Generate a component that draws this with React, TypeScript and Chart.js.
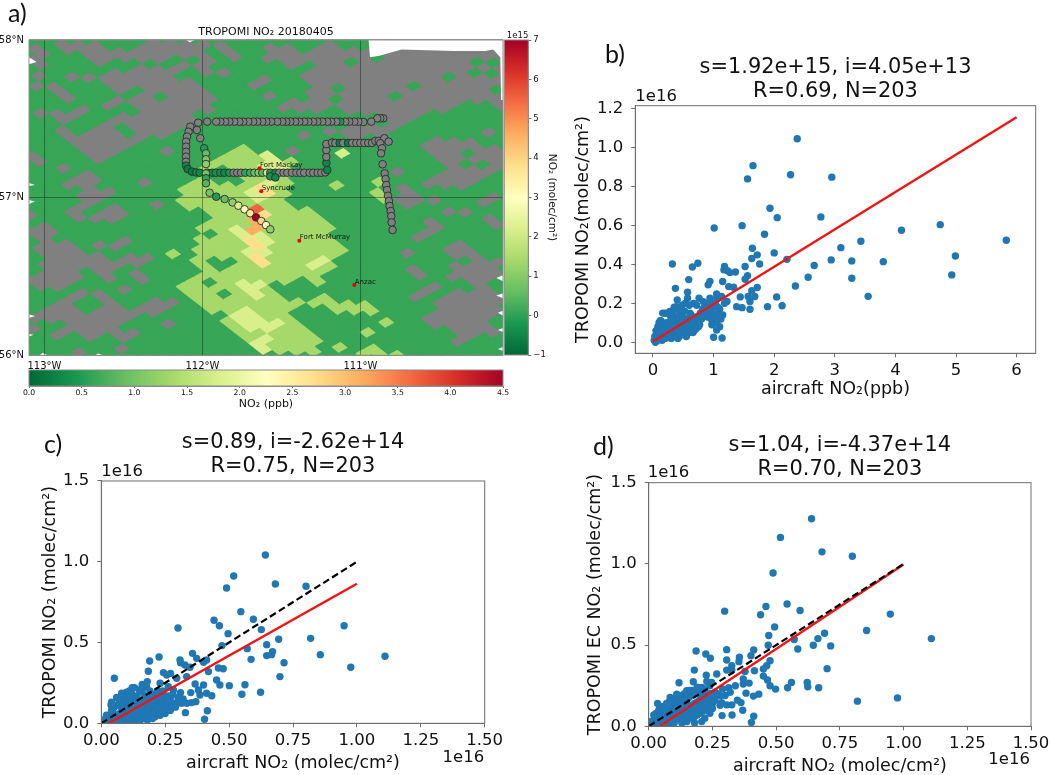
import React, { useEffect, useRef } from "react";
import { Chart, registerables } from "chart.js";
Chart.register(...registerables);

const FONT = "'DejaVu Sans'";
const INK = "#111";
const SPINE = "#6e6e6e";
const BLUE = "#1f77b4";

// RdYlGn reversed, low to high
const CMAP = ["#006837","#1a9850","#66bd63","#a6d96a","#d9ef8b","#ffffbf","#fee08b","#fdae61","#f46d43","#d73027","#a50026"];

// ---------- Panel a: map ----------
const MAP_TITLE = "TROPOMI NO₂ 20180405";
const LON_TICKS = [-113, -112, -111];
const LAT_TICKS = [56, 57, 58];
const NO2_TICKS = [-1, 0, 1, 2, 3, 4, 5, 6, 7];
const PPB_TICKS = [0, 0.5, 1, 1.5, 2, 2.5, 3, 3.5, 4, 4.5];

const CITY_NAMES = ["Fort Mackay", "Syncrude", "Fort McMurray", "Anzac"];
const CITY_LON = [-111.639, -111.628, -111.387, -111.039];
const CITY_LAT = [57.186, 57.04, 56.727, 56.446];

const TRACK_LON = [
  -110.856,-110.875,-110.894,-110.932,-110.982,-111.014,-111.039,-111.071,-111.096,-111.128,-111.153,-111.185,-111.21,-111.242,-111.273,-111.299,-111.33,-111.356,-111.387,-111.413,-111.444,-111.47,-111.495,-111.527,-111.565,-111.596,-111.622,-111.653,-111.679,-111.71,-111.742,-111.767,-111.799,-111.83,-111.856,-111.887,-111.913,-111.97,
  -112.027,-112.077,-112.088,-112.098,-112.104,-112.104,-112.104,-112.104,-112.104,-112.104,-112.094,
  -112.067,-112.039,-112.018,-111.968,-111.938,-111.915,-111.887,-111.862,-111.83,-111.803,-111.78,-111.756,-111.729,-111.698,-111.672,-111.645,-111.622,-111.592,-111.571,-111.539,-111.514,-111.487,-111.463,-111.434,-111.406,-111.381,-111.356,-111.322,-111.299,-111.271,-111.248,-111.223,
  -111.21,-111.216,-111.216,-111.216,-111.216,-111.178,
  -111.18,-111.159,-111.132,-111.109,-111.079,-111.052,-111.026,-111.001,-110.976,-110.951,-110.927,-110.906,-110.885,-110.849,-110.822,
  -110.875,-110.864,-110.87,-110.86,-110.847,-110.841,-110.837,-110.832,-110.826,-110.82,-110.816,-110.809,-110.805,-110.803,-110.797,
  -112.035,-112.014,-111.989,-111.978,-111.978,-111.978,-111.978,-111.978,-111.978,-111.955,-111.913,-111.86,-111.81,-111.773,-111.734,-111.698,-111.661,-111.628,-111.598,-111.571,
  -111.571,-111.539,
];
const TRACK_LAT = [
  57.503,57.503,57.503,57.482,57.48,57.482,57.482,57.482,57.482,57.482,57.482,57.482,57.482,57.482,57.482,57.482,57.482,57.482,57.482,57.482,57.482,57.482,57.482,57.482,57.482,57.482,57.482,57.482,57.482,57.482,57.482,57.482,57.482,57.482,57.482,57.482,57.482,57.482,
  57.475,57.45,57.418,57.387,57.355,57.323,57.291,57.26,57.228,57.203,57.182,
  57.165,57.16,57.158,57.158,57.158,57.158,57.158,57.158,57.158,57.158,57.158,57.158,57.158,57.158,57.158,57.158,57.158,57.158,57.158,57.158,57.158,57.158,57.158,57.158,57.158,57.158,57.158,57.158,57.158,57.158,57.158,57.16,
  57.175,57.22,57.258,57.302,57.34,57.349,
  57.349,57.347,57.347,57.347,57.347,57.347,57.347,57.347,57.347,57.347,57.347,57.36,57.36,57.377,57.355,
  57.345,57.313,57.281,57.212,57.154,57.118,57.08,57.048,57.012,56.979,56.947,56.915,56.883,56.843,56.795,
  57.429,57.377,57.313,57.281,57.243,57.213,57.154,57.123,57.091,57.031,57.006,56.991,56.97,56.949,56.926,56.901,56.875,56.852,56.826,56.799,
  57.135,57.128,
];
// null = no aircraft value (grey marker)
const TRACK_PPB: (number | null)[] = [
  null,null,null,null,null,null,null,null,null,0.45,null,null,null,null,null,null,null,null,null,null,null,null,null,null,null,null,null,null,null,null,null,null,null,null,null,null,null,null,
  null,null,null,null,null,null,null,null,null,0.3,0.2,
  0.2,0.35,0.3,0.25,0.3,0.4,0.35,0.3,0.45,null,null,null,0.6,0.7,0.9,1.1,0.8,1.8,0.5,0.3,null,null,null,null,null,null,null,null,null,null,null,null,
  0.3,0.3,null,null,null,null,
  null,null,0.2,null,0.2,null,null,null,null,null,null,null,null,null,null,
  null,null,null,null,null,null,null,null,null,null,null,null,null,null,null,
  null,null,0.5,0.9,1.1,1.2,1.0,0.6,0.8,1.0,0.5,0.9,1.2,1.8,2.2,2.6,4.5,2.8,2.3,1.2,
  0.4,0.3,
];

// Outlines of the cloud-masked (grey) areas, as flat lon,lat lists
const GREY_REGIONS: number[][] = [
  [-113.10,57.97,-113.04,57.98,-112.96,57.87,-113.03,57.83,-113.10,57.88],
  [-112.95,57.99,-112.72,57.99,-112.59,57.92,-112.67,57.88,-112.77,57.90,-112.88,57.92],
  [-112.37,57.99,-111.99,57.99,-111.92,57.90,-112.06,57.88,-112.20,57.89,-112.35,57.85,-112.44,57.89,-112.56,57.87,-112.71,57.84,-112.65,57.88,-112.58,57.90],
  [-111.95,57.97,-111.80,57.98,-111.68,57.88,-111.76,57.85,-111.87,57.90],
  [-111.64,57.94,-111.42,57.99,-111.38,57.89,-111.55,57.85],
  [-112.06,57.89,-111.97,57.90,-111.91,57.82,-111.98,57.78],
  [-111.90,57.82,-111.82,57.84,-111.79,57.80,-111.86,57.77],
  [-111.74,57.74,-111.62,57.78,-111.57,57.75,-111.68,57.70],
  [-111.67,57.65,-111.61,57.68,-111.56,57.64,-111.61,57.62],
  [-111.52,57.58,-111.45,57.61,-111.40,57.58,-111.47,57.55],
  [-111.94,57.32,-111.90,57.35,-111.85,57.31,-111.90,57.29],
  [-112.23,57.30,-112.16,57.32,-112.12,57.28,-112.18,57.26],
  [-112.88,57.79,-112.82,57.82,-112.76,57.78,-112.83,57.75],
  [-112.75,57.77,-112.71,57.79,-112.68,57.75,-112.72,57.74],
  [-113.07,57.78,-113.01,57.80,-112.96,57.77,-113.03,57.75],
  [-113.10,57.73,-113.04,57.74,-113.00,57.70,-113.07,57.67,-113.10,57.68],
  [-112.985,57.69,-112.91,57.72,-112.84,57.63,-112.91,57.60],
  [-113.07,57.56,-113.01,57.58,-112.95,57.52,-113.02,57.50],
  [-112.94,57.52,-112.79,57.58,-112.70,57.53,-112.87,57.49],
  [-112.64,57.76,-112.52,57.81,-112.11,57.85,-112.10,57.80,-112.25,57.76,-112.10,57.75,-111.93,57.62,-111.87,57.55,-111.99,57.53,-112.11,57.51,-112.23,57.56,-112.29,57.52,-112.39,57.56,-112.53,57.55,-112.65,57.58,-112.55,57.64,-112.56,57.70],
  [-112.94,57.42,-112.86,57.44,-112.77,57.39,-112.67,57.45,-112.60,57.47,-112.54,57.52,-112.41,57.53,-112.29,57.51,-112.23,57.55,-112.13,57.57,-112.03,57.52,-112.11,57.42,-112.18,57.39,-112.35,57.37,-112.44,57.32,-112.53,57.27,-112.65,57.22,-112.69,57.26,-112.77,57.31,-112.87,57.34],
  [-113.10,57.33,-113.04,57.31,-113.00,57.20,-113.10,57.20],
  [-112.93,57.18,-112.87,57.20,-112.83,57.17,-112.89,57.14],
  [-112.85,57.11,-112.72,57.19,-112.63,57.10,-112.72,57.05,-112.79,57.09,-112.90,57.03],
  [-112.45,57.10,-112.39,57.13,-112.34,57.09,-112.39,57.07],
  [-112.86,57.03,-112.58,57.07,-112.50,57.03,-112.75,56.93],
  [-112.37,56.98,-112.28,57.0,-112.23,56.95,-112.30,56.92],
  [-113.10,56.95,-113.03,56.92,-113.01,56.89,-113.10,56.88],
  [-112.83,56.95,-112.73,56.89,-112.65,56.90,-112.52,56.96,-112.46,56.91,-112.58,56.83,-112.65,56.86,-112.79,56.82,-112.86,56.92],
  [-113.10,56.81,-112.96,56.87,-112.89,56.76,-113.01,56.72,-113.10,56.75],
  [-113.05,56.72,-112.85,56.73,-112.76,56.65,-112.68,56.67,-112.60,56.59,-112.35,56.66,-112.32,56.60,-112.58,56.54,-112.56,56.51,-112.77,56.54,-113.0,56.51,-113.0,56.56,-113.05,56.57,-113.01,56.62],
  [-112.71,56.71,-112.66,56.74,-112.60,56.70,-112.67,56.68],
  [-112.59,56.70,-112.35,56.78,-112.32,56.75,-112.55,56.66],
  [-113.10,56.55,-113.0,56.51,-112.77,56.53,-112.72,56.50,-112.94,56.38,-112.97,56.44,-113.10,56.41],
  [-113.10,56.26,-113.01,56.32,-112.73,56.42,-112.55,56.36,-112.48,56.30,-112.25,56.36,-112.17,56.33,-112.37,56.24,-112.54,56.20,-112.41,56.14,-112.50,56.09,-112.58,56.15,-112.71,56.09,-112.83,56.15,-112.90,56.07,-112.97,56.15,-112.80,56.20,-112.99,56.21,-113.10,56.14],
  [-112.64,56.51,-112.58,56.53,-112.53,56.49,-112.59,56.46],
  [-112.44,56.51,-112.37,56.55,-112.32,56.51,-112.37,56.47],
  [-112.55,56.40,-112.49,56.44,-112.44,56.40,-112.50,56.37],
  [-112.28,56.21,-112.23,56.24,-112.17,56.20,-112.23,56.17],
  [-112.56,56.04,-112.50,56.09,-112.45,56.04,-112.50,56.01],
  [-112.85,56.0,-112.78,56.04,-112.72,56.0],
  [-112.19,56.0,-112.13,56.03,-112.09,56.0],
  [-111.31,57.96,-110.94,57.96,-110.88,57.96,-110.74,57.98,-110.41,57.98,-110.21,57.98,-110.16,57.98,-110.05,57.98,-110.05,57.55,-110.16,57.61,-110.29,57.61,-110.37,57.56,-110.63,57.52,-110.74,57.43,-111.0,57.36,-111.15,57.41,-111.28,57.42,-111.0,57.48,-110.79,57.47,-110.83,57.52,-111.04,57.53,-111.19,57.58,-111.38,57.52,-111.51,57.57,-111.42,57.62,-111.32,57.64,-111.33,57.73,-111.42,57.80,-111.32,57.80],
  [-111.51,57.95,-111.42,57.99,-111.32,57.89,-111.42,57.82,-111.51,57.84],
  [-111.21,57.98,-111.12,57.99,-111.01,57.89,-111.11,57.89],
  [-111.51,57.60,-111.47,57.61,-111.41,57.57,-111.47,57.55],
  [-111.42,57.38,-111.36,57.41,-111.31,57.37,-111.37,57.33],
  [-111.46,57.30,-111.40,57.33,-111.35,57.29,-111.40,57.27],
  [-110.20,57.42,-110.14,57.43,-110.10,57.40,-110.16,57.37],
  [-110.61,57.28,-110.58,57.34,-110.41,57.39,-110.33,57.37,-110.20,57.32,-110.10,57.39,-110.10,57.15,-110.22,57.11,-110.37,57.07,-110.50,57.05,-110.64,57.07,-110.60,57.13,-110.45,57.18,-110.52,57.24],
  [-110.79,57.16,-110.74,57.20,-110.68,57.16,-110.74,57.13],
  [-110.78,57.05,-110.74,57.08,-110.62,56.99,-110.71,56.93],
  [-110.56,57.0,-110.51,57.03,-110.46,56.99,-110.52,56.96],
  [-110.27,56.99,-110.16,57.01,-110.10,57.0,-110.10,56.97,-110.22,56.94],
  [-110.71,56.96,-110.62,56.985,-110.60,56.95,-110.66,56.92],
  [-110.47,56.91,-110.42,56.94,-110.38,56.90,-110.43,56.88],
  [-110.38,56.89,-110.33,56.92,-110.27,56.88,-110.33,56.85],
  [-110.26,56.87,-110.14,56.91,-110.10,56.86,-110.10,56.75,-110.16,56.77,-110.18,56.84,-110.22,56.83],
  [-110.29,56.80,-110.24,56.83,-110.19,56.79,-110.24,56.76],
  [-110.66,56.78,-110.56,56.85,-110.49,56.82,-110.59,56.76,-110.64,56.76],
  [-110.70,56.73,-110.64,56.76,-110.59,56.73,-110.64,56.70],
  [-110.73,56.66,-110.67,56.69,-110.62,56.66,-110.67,56.63],
  [-110.54,56.67,-110.42,56.71,-110.29,56.69,-110.22,56.59,-110.10,56.63,-110.10,56.53,-110.16,56.49,-110.24,56.44,-110.16,56.42,-110.10,56.33,-110.10,56.27,-110.22,56.24,-110.16,56.19,-110.11,56.14,-110.35,56.11,-110.41,56.19,-110.50,56.15,-110.63,56.23,-110.54,56.27,-110.44,56.32,-110.53,56.32,-110.43,56.37,-110.39,56.43,-110.29,56.41,-110.33,56.48,-110.41,56.48,-110.47,56.58,-110.39,56.62,-110.45,56.65],
  [-110.72,56.55,-110.65,56.58,-110.57,56.46,-110.49,56.42,-110.57,56.38,-110.67,56.36,-110.58,56.42,-110.66,56.50],
  [-110.41,56.08,-110.36,56.10,-110.32,56.07,-110.37,56.03],
];
// Clear openings inside the grey areas
const CLEAR_REGIONS: number[][] = [
  [-112.55,57.67,-112.41,57.71,-112.35,57.65,-112.50,57.61],
  [-112.30,57.62,-112.24,57.65,-112.20,57.61,-112.27,57.58],
  [-112.58,57.59,-112.53,57.61,-112.48,57.58,-112.53,57.55],
  [-112.44,57.87,-112.38,57.89,-112.34,57.85,-112.39,57.84],
  [-112.53,57.44,-112.45,57.46,-112.41,57.42,-112.49,57.39],
  [-112.81,56.33,-112.68,56.37,-112.58,56.31,-112.71,56.26,-112.80,56.27],
  [-111.12,57.85,-111.04,57.89,-111.02,57.86,-111.09,57.82],
  [-110.93,57.88,-110.88,57.89,-110.84,57.86,-110.91,57.84],
  [-111.30,57.76,-111.25,57.76,-111.16,57.70,-111.22,57.68],
  [-111.15,57.69,-111.03,57.74,-110.98,57.71,-111.11,57.66],
  [-111.18,57.63,-111.13,57.65,-111.08,57.62,-111.13,57.59],
  [-110.85,57.66,-110.80,57.69,-110.75,57.65,-110.80,57.63],
  [-110.72,57.70,-110.67,57.74,-110.62,57.70,-110.66,57.67],
  [-110.51,57.77,-110.45,57.80,-110.41,57.76,-110.46,57.73],
  [-110.34,57.90,-110.14,57.86,-110.16,57.84,-110.34,57.86],
  [-110.34,57.80,-110.29,57.82,-110.14,57.81,-110.14,57.77,-110.22,57.76],
  [-110.19,57.69,-110.14,57.71,-110.10,57.68,-110.14,57.65],
  [-110.85,57.55,-110.80,57.58,-110.75,57.55,-110.80,57.51],
  [-110.41,57.31,-110.33,57.32,-110.26,57.28,-110.35,57.25],
  [-110.39,57.23,-110.34,57.25,-110.29,57.21,-110.35,57.19],
  [-110.29,57.20,-110.24,57.23,-110.19,57.20,-110.25,57.16],
  [-110.40,56.59,-110.35,56.61,-110.29,56.58,-110.35,56.55],
  [-110.45,56.23,-110.40,56.26,-110.36,56.22,-110.41,56.19],
  [-110.36,56.42,-110.30,56.46,-110.25,56.42,-110.30,56.39],
];
// Outside the satellite swath: left blank
const NO_DATA_REGIONS: number[][] = [
  [-110.95,58.02,-110.94,57.89,-110.88,57.90,-110.74,57.94,-110.41,57.93,-110.21,57.93,-110.16,57.94,-110.115,57.89,-110.11,57.62,-110.05,57.62,-110.05,58.02],
  [-113.12,57.905,-113.05,57.86,-113.12,57.84],
  [-113.12,57.10,-113.06,57.08,-113.12,57.07],
  [-113.12,56.99,-113.06,56.975,-113.12,56.95],
  [-113.12,56.265,-113.06,56.25,-113.12,56.23],
  [-113.12,56.14,-113.07,56.13,-113.12,56.11],
  [-110.14,56.49,-110.08,56.515,-110.08,56.46],
  [-110.14,56.38,-110.08,56.40,-110.08,56.355],
  [-110.13,56.27,-110.08,56.29,-110.08,56.24],
  [-110.13,56.16,-110.08,56.18,-110.08,56.14],
  [-110.13,56.04,-110.08,56.06,-110.08,56.02],
  [-113.05,55.99,-113.01,56.015,-112.96,55.99],
  [-112.70,55.99,-112.66,56.012,-112.6,55.99],
  [-112.12,58.01,-112.08,57.985,-112.03,58.01],
];
// Plume, in 1e15 molec/cm2
const PLUME_LIGHT: number[][] = [
  [-112.16,57.03,-112.13,57.09,-112.01,57.15,-111.89,57.26,-111.76,57.33,-111.64,57.28,-111.58,57.33,-111.49,57.26,-111.38,57.26,-111.38,57.22,-111.45,57.13,-111.42,57.05,-111.44,56.98,-111.36,56.93,-111.30,56.92,-111.18,56.89,-111.23,56.85,-111.15,56.77,-111.16,56.70,-111.10,56.67,-111.16,56.62,-111.10,56.57,-111.19,56.53,-111.25,56.48,-111.22,56.39,-111.15,56.31,-110.95,56.37,-110.86,56.30,-110.93,56.26,-111.13,56.26,-111.23,56.32,-111.36,56.30,-111.42,56.27,-111.31,56.13,-111.23,56.05,-111.33,56.0,-111.63,56.0,-111.79,56.12,-111.88,56.19,-111.80,56.27,-112.05,56.30,-112.16,56.42,-112.0,56.49,-112.05,56.58,-112.05,56.66,-111.97,56.71,-112.05,56.76,-111.93,56.87,-112.10,56.96],
  [-112.24,56.64,-112.18,56.67,-112.13,56.64,-112.18,56.60],
  [-111.03,56.15,-110.98,56.19,-110.94,56.15,-110.98,56.12],
  [-110.93,56.13,-110.88,56.16,-110.83,56.13,-110.88,56.10],
  [-110.88,56.20,-110.83,56.23,-110.79,56.20,-110.84,56.17],
  [-111.15,56.05,-110.98,56.11,-110.95,56.09,-111.11,56.02],
  [-111.0,56.0,-110.93,56.10,-110.86,56.04,-110.83,56.0],
  [-110.82,56.0,-110.77,56.02,-110.72,56.0],
  [-111.19,57.10,-111.14,57.13,-111.09,57.09,-111.14,57.07],
  [-110.93,57.13,-110.88,57.15,-110.85,57.10,-110.90,57.08],
  [-110.93,57.01,-110.88,57.04,-110.83,57.0,-110.88,56.96],
];
const PLUME_GAPS: number[][] = [
  [-111.51,56.45,-111.38,56.48,-111.29,56.48,-111.23,56.39,-111.38,56.34,-111.41,56.35,-111.49,56.32],
  [-111.97,56.78,-111.91,56.82,-111.86,56.78,-111.93,56.75],
  [-112.0,56.61,-111.94,56.63,-111.89,56.59,-111.78,56.61,-111.73,56.57,-111.89,56.52],
  [-111.99,56.48,-111.95,56.51,-111.89,56.48,-111.95,56.45],
  [-111.93,56.39,-111.88,56.42,-111.81,56.38,-111.88,56.35],
  [-111.57,56.45,-111.52,56.48,-111.47,56.45,-111.52,56.41],
  [-111.50,56.35,-111.38,56.43,-111.38,56.35,-111.43,56.32],
  [-111.41,56.27,-111.38,56.29,-111.38,56.19,-111.42,56.22],
  [-111.97,57.22,-111.80,57.18,-111.68,57.11,-111.82,57.07,-111.93,57.09],
];
const PLUME_PALE: number[][] = [
  [-111.16,57.28,-111.11,57.31,-111.05,57.28,-111.11,57.24],
  [-111.63,57.24,-111.55,57.29,-111.47,57.20,-111.53,57.15,-111.61,57.18],
  [-111.76,57.05,-111.59,57.13,-111.53,57.05,-111.63,56.98,-111.72,57.0],
  [-111.81,56.84,-111.73,56.78,-111.61,56.81,-111.52,56.72,-111.59,56.68,-111.71,56.73,-111.81,56.76],
  [-111.77,56.68,-111.66,56.71,-111.52,56.59,-111.59,56.55,-111.71,56.61],
  [-111.76,56.45,-111.64,56.48,-111.59,56.38,-111.68,56.31],
  [-111.80,56.27,-111.68,56.35,-111.66,56.24,-111.47,56.23,-111.57,56.15,-111.68,56.14],
  [-111.71,56.10,-111.56,56.13,-111.57,56.0,-111.63,56.0],
  [-111.32,56.59,-111.26,56.63,-111.20,56.59,-111.27,56.55],
];
const PLUME_YELLOW: number[][] = [
  [-111.72,56.75,-111.66,56.77,-111.58,56.70,-111.64,56.67],
  [-111.72,56.62,-111.66,56.66,-111.58,56.58,-111.64,56.55],
  [-111.66,57.06,-111.59,57.07,-111.56,57.0,-111.61,56.99],
  [-111.61,56.90,-111.56,56.89,-111.60,56.85,-111.65,56.88],
];
const PLUME_ORANGE: number[][] = [[-111.74,56.87,-111.67,56.90,-111.59,56.83,-111.68,56.78]];
const PLUME_RED: number[][] = [[-111.71,56.93,-111.63,56.96,-111.59,56.91,-111.67,56.88]];

// ---------- Panel b ----------
const B_TITLE = ["s=1.92e+15, i=4.05e+13", "R=0.69, N=203"];
const B_X_TICKS = [0, 1, 2, 3, 4, 5, 6];
const B_Y_TICKS = [0, 0.2, 0.4, 0.6, 0.8, 1.0, 1.2];
const B_FIT_X = [0, 6];
const B_FIT_Y = [0.004, 1.156];
const B_POINTS = [
  2.38,1.045,1.65,.907,1.56,.839,2.27,.86,2.95,.848,1.93,.688,2.05,.64,2.77,.644,1.01,.587,1.47,.599,1.84,.555,4.10,.575,4.74,.604,5.83,.524,3.43,.519,3.10,.486,1.64,.483,2.00,.459,1.72,.449,4.99,.443,1.63,.43,2.21,.426,2.94,.423,3.28,.418,3.80,.414,1.76,.402,2.66,.394,1.52,.389,.32,.402,.74,.406,.65,.387,1.18,.389,1.17,.372,1.23,.368,1.27,.358,1.36,.361,4.93,.346,3.28,.329,2.56,.334,1.56,.342,1.52,.324,.59,.322,1.15,.312,.94,.313,.91,.295,2.35,.289,1.72,.281,1.25,.286,1.33,.283,.37,.277,1.63,.265,.57,.257,1.05,.248,3.55,.236,2.04,.233,1.68,.235,1.57,.235,1.44,.233,2.13,.188,1.89,.183,1.38,.183,1.47,.178,1.60,.17,1.6,.21,1.22,.21,
  .40,.218,.76,.226,.57,.226,.39,.183,.53,.2,.67,.2,.83,.209,.94,.226,1.05,.226,1.13,.235,.2,.149,.28,.158,.42,.132,.12,.111,.61,.149,.8,.14,.94,.149,1.08,.132,1,.106,1.1,.08,1,.026,1.14,.022,1.05,.063,
  .02,.01,.03,.03,.05,.02,.06,.04,.08,.01,.09,.03,.1,.05,.12,.02,.13,.04,.14,.07,.15,.01,.17,.03,.18,.05,.19,.09,.2,.02,.21,.06,.23,.08,.24,.03,.26,.04,.27,.1,.28,.06,.3,.02,.31,.08,.33,.05,.34,.1,.36,.03,.37,.07,.39,.12,.4,.05,.42,.09,.43,.03,.45,.06,.46,.11,.48,.04,.5,.08,.51,.05,.53,.1,.55,.03,.56,.07,.58,.12,.6,.05,.61,.09,.63,.14,.65,.07,.67,.11,.68,.06,.7,.09,.72,.13,.75,.08,.78,.15,.82,.17,.85,.18,.88,.16,.9,.13,.93,.18,.96,.12,.98,.15,1.02,.14,1.05,.1,1.08,.15,1.12,.12,.1,.1,.13,.11,.05,.06,.08,.08,.16,.15,.24,.15,.28,.14,.33,.16,.36,.13,
  .04,.0,.07,.06,.11,.08,.15,.05,.17,.09,.22,.1,.25,.07,.29,.11,.32,.03,.35,.07,.38,.09,.41,.02,.44,.12,.47,.08,.49,.13,.52,.07,.54,.12,.57,.1,.59,.07,.62,.11,.64,.09,.66,.05,.69,.12,.71,.07,.74,.11,.77,.09,.8,.12,.84,.14,.87,.2,.91,.16,.95,.2,.97,.09,1.0,.18,1.03,.2,1.07,.18,1.1,.17,1.15,.14,1.18,.2,.3,.13,.35,.18,.44,.16,.48,.19,.52,.16,.6,.19,.72,.19,
];

// ---------- Panels c, d ----------
const CD_TICKS_X = [0, 0.25, 0.5, 0.75, 1, 1.25, 1.5];
const CD_TICKS_Y = [0, 0.5, 1, 1.5];
const C_TITLE = ["s=0.89, i=-2.62e+14", "R=0.75, N=203"];
const D_TITLE = ["s=1.04, i=-4.37e+14", "R=0.70, N=203"];
const ONE_TO_ONE_X = [0, 1];
const ONE_TO_ONE_Y = [0, 1];
const C_FIT_Y = [-0.026, 0.864];
const D_FIT_Y = [-0.044, 0.996];
const C_POINTS = [
  .642,1.042,.518,.912,.49,.838,.681,.862,.801,.848,.546,.691,.441,.638,.595,.644,.462,.604,.496,.555,.3,.59,.626,.58,.95,.604,.819,.526,.694,.52,.647,.487,.472,.481,.357,.433,.571,.462,.857,.425,.67,.444,.647,.419,.666,.425,1.11,.415,.226,.41,.189,.386,.373,.402,.308,.392,.31,.375,.327,.361,.412,.392,.40,.378,.586,.396,.715,.375,.347,.347,.976,.347,.458,.342,.477,.338,.184,.322,.419,.32,.243,.314,.271,.309,.256,.299,.051,.279,.699,.289,.295,.279,.334,.289,.451,.268,.464,.237,.501,.233,.562,.239,.367,.243,.4,.237,.38,.206,.386,.175,.412,.186,.432,.171,.55,.18,.623,.192,.18,.258,.177,.227,.23,.248,.262,.227,.158,.217,.121,.221,.099,.192,.08,.186,.07,.155,.038,.113,.044,.082,.282,.206,.243,.165,.269,.124,.295,.128,.314,.124,.334,.124,.353,.128,.37,.134,.329,.066,.415,.078,.404,.025,
  .01,.005,.02,.02,.03,.01,.03,.04,.04,.02,.05,.005,.05,.05,.06,.03,.07,.01,.07,.06,.08,.02,.08,.09,.09,.04,.09,.12,.10,.01,.10,.07,.11,.03,.11,.1,.12,.05,.12,.14,.13,.02,.13,.08,.14,.04,.14,.12,.15,.06,.15,.01,.16,.09,.16,.03,.17,.06,.17,.13,.18,.02,.18,.1,.19,.05,.19,.15,.20,.08,.20,.12,.21,.04,.21,.1,.22,.07,.22,.14,.23,.11,.24,.09,.24,.16,.25,.06,.25,.13,.26,.1,.27,.15,.28,.12,.09,.15,.1,.17,.12,.18,.08,.13,.05,.1,.04,.08,.06,.11,.02,.05,.16,.2,.2,.18,.22,.2,.24,.2,.14,.17,.17,.17,.19,.2,.06,.01,.09,.02,.12,.01,.15,.03,
  .01,.02,.02,.0,.04,.04,.06,.0,.07,.03,.08,.05,.09,.08,.1,.04,.11,.06,.12,.09,.13,.05,.14,.08,.15,.1,.16,.06,.17,.09,.18,.07,.19,.11,.2,.03,.21,.07,.22,.1,.23,.05,.23,.15,.24,.12,.25,.09,.26,.13,.27,.08,.29,.1,.3,.16,.31,.19,.32,.15,.35,.19,.26,.17,.28,.18,.06,.16,.07,.13,.1,.13,.13,.15,.15,.14,.18,.15,.21,.16,.15,.2,.04,.13,.11,.2,.13,.22,.16,.24,
];
const D_POINTS = [
  .639,1.278,.517,1.163,.68,1.074,.799,1.047,.488,.944,.543,.753,.46,.738,.439,.687,.594,.713,.298,.709,.948,.691,.494,.612,.69,.573,.855,.59,.471,.559,.571,.534,.664,.54,.646,.499,.714,.495,.469,.499,1.109,.54,.585,.476,.306,.472,.412,.47,.401,.435,.186,.464,.224,.445,.242,.419,.356,.425,.354,.398,.306,.408,.326,.373,.476,.404,.463,.373,.45,.353,.70,.355,.306,.346,.326,.346,.267,.322,.226,.315,.179,.346,.415,.342,.378,.338,.45,.309,.466,.285,.371,.291,.371,.26,.394,.266,.476,.25,.498,.229,.56,.27,.545,.237,.622,.27,.624,.243,.667,.237,.314,.237,.382,.204,.411,.186,.432,.198,.819,.155,.976,.175,.119,.268,.175,.274,.208,.239,.228,.276,.247,.27,.149,.219,.11,.198,.084,.177,.035,.14,.28,.188,.286,.146,.306,.132,.326,.132,.348,.161,.362,.146,.369,.099,.288,.066,.327,.07,.412,.062,.403,.023,.208,.029,
  .005,.01,.01,.03,.02,.005,.02,.04,.03,.02,.04,.06,.04,.01,.05,.04,.05,.09,.06,.02,.06,.07,.07,.11,.07,.04,.08,.01,.08,.08,.09,.13,.09,.05,.10,.02,.10,.1,.11,.07,.11,.15,.12,.04,.12,.12,.13,.02,.13,.09,.14,.06,.14,.16,.15,.03,.15,.11,.16,.08,.16,.18,.17,.05,.17,.13,.18,.1,.18,.02,.19,.15,.19,.07,.20,.12,.20,.2,.21,.09,.21,.17,.22,.13,.22,.05,.23,.1,.23,.19,.24,.14,.24,.08,.25,.17,.25,.11,.26,.21,.06,.12,.08,.15,.05,.12,.1,.17,.12,.19,.03,.08,.14,.2,.17,.22,.19,.24,.22,.23,.24,.2,
  .01,.0,.03,.05,.04,.03,.06,.05,.07,.07,.08,.11,.09,.09,.1,.06,.11,.11,.12,.08,.13,.13,.14,.1,.15,.07,.15,.14,.16,.12,.17,.09,.18,.14,.18,.06,.19,.11,.2,.08,.2,.16,.21,.13,.22,.1,.23,.15,.24,.11,.25,.14,.26,.16,.27,.2,.28,.13,.29,.23,.3,.19,.32,.21,.34,.25,.07,.14,.09,.16,.11,.18,.13,.17,.15,.18,.02,.07,.04,.1,.06,.1,.16,.22,.18,.2,.21,.21,.24,.25,
];

const pairs = (flat: number[]) => {
  const out: { x: number; y: number }[] = [];
  for (let i = 0; i < flat.length; i += 2) out.push({ x: flat[i], y: flat[i + 1] });
  return out;
};
const zip = (xs: number[], ys: number[]) => xs.map((x, i) => ({ x, y: ys[i] }));

function inPoly(x: number, y: number, p: number[]) {
  let inside = false;
  for (let i = 0, j = p.length - 2; i < p.length; j = i, i += 2) {
    const xi = p[i], yi = p[i + 1], xj = p[j], yj = p[j + 1];
    if (yi > y !== yj > y && x < ((xj - xi) * (y - yi)) / (yj - yi) + xi) inside = !inside;
  }
  return inside;
}
const inAny = (x: number, y: number, list: number[][]) => list.some((p) => inPoly(x, y, p));

function mix(t: number) {
  const u = Math.max(0, Math.min(1, t)) * (CMAP.length - 1);
  const i = Math.min(CMAP.length - 2, Math.floor(u));
  const f = u - i;
  const rgb = (h: string) => [1, 3, 5].map((k) => parseInt(h.slice(k, k + 2), 16));
  const a = rgb(CMAP[i]), b = rgb(CMAP[i + 1]);
  return `rgb(${a.map((v, k) => Math.round(v + (b[k] - v) * f)).join(",")})`;
}
const no2Color = (v: number) => mix((v + 1) / 8);
const ppbColor = (v: number) => mix(v / 4.5);

// swath grid of the satellite pixels
const STEP_A = [0.0589, 0.0317];
const STEP_B = [0.0462, -0.0362];
const GRID_ANCHOR = [-111.107, 57.281];

type Cell = { x: number; y: number; v: number | null };
function buildCells() {
  const cells: Cell[] = [];
  for (let i = -45; i <= 45; i++) {
    for (let j = -45; j <= 50; j++) {
      const x = GRID_ANCHOR[0] + i * STEP_A[0] + j * STEP_B[0];
      const y = GRID_ANCHOR[1] + i * STEP_A[1] + j * STEP_B[1];
      if (x < -113.2 || x > -110 || y < 55.95 || y > 58.05) continue;
      let v: number | null = 0.1;
      if (inAny(x, y, GREY_REGIONS) && !inAny(x, y, CLEAR_REGIONS)) v = null;
      if (inAny(x, y, PLUME_LIGHT)) v = 1.4;
      if (inAny(x, y, PLUME_GAPS)) v = 0.1;
      if (inAny(x, y, PLUME_PALE)) v = 2.2;
      if (inAny(x, y, PLUME_YELLOW)) v = 3.8;
      if (inAny(x, y, PLUME_ORANGE)) v = 4.6;
      if (inAny(x, y, PLUME_RED)) v = 5.5;
      cells.push({ x, y, v });
    }
  }
  return cells;
}

// ---------- plugins ----------
const framePlugin = (color = SPINE, width = 1) => ({
  id: "frame",
  afterDatasetsDraw(chart: any) {
    const a = chart.chartArea, c = chart.ctx;
    c.save();
    c.strokeStyle = color;
    c.lineWidth = width;
    c.strokeRect(a.left, a.top, a.right - a.left, a.bottom - a.top);
    c.restore();
  },
});
type Note = { text: string; fx: "left" | "right"; dx: number; fy: "top" | "bottom"; dy: number; align: any; font: string };
const notesPlugin = (notes: Note[]) => ({
  id: "notes",
  afterDraw(chart: any) {
    const a = chart.chartArea, c = chart.ctx;
    c.save();
    c.fillStyle = INK;
    c.textBaseline = "middle";
    for (const n of notes) {
      c.font = n.font;
      c.textAlign = n.align;
      c.fillText(n.text, a[n.fx] + n.dx, a[n.fy] + n.dy);
    }
    c.restore();
  },
});
const cellsPlugin = {
  id: "cells",
  beforeDraw(chart: any) {
    const ds = chart.data.datasets.find((d: any) => d.label === "cells");
    if (!ds) return;
    const a = chart.chartArea, c = chart.ctx, sx = chart.scales.x, sy = chart.scales.y;
    c.save();
    c.beginPath();
    c.rect(a.left, a.top, a.right - a.left, a.bottom - a.top);
    c.clip();
    c.lineWidth = 1.3;
    c.lineJoin = "round";
    for (const cell of ds.data as Cell[]) {
      const col = cell.v === null ? "rgb(128,128,128)" : no2Color(cell.v);
      c.fillStyle = col;
      c.strokeStyle = col;
      c.beginPath();
      [[-1, -1], [1, -1], [1, 1], [-1, 1]].forEach(([p, q], k) => {
        const lon = cell.x + (p * STEP_A[0] + q * STEP_B[0]) / 2;
        const lat = cell.y + (p * STEP_A[1] + q * STEP_B[1]) / 2;
        const X = sx.getPixelForValue(lon), Y = sy.getPixelForValue(lat);
        if (k === 0) c.moveTo(X, Y);
        else c.lineTo(X, Y);
      });
      c.closePath();
      c.fill();
      c.stroke();
    }
    c.fillStyle = "#fff";
    for (const poly of NO_DATA_REGIONS) {
      c.beginPath();
      for (let i = 0; i < poly.length; i += 2) {
        const X = sx.getPixelForValue(poly[i]), Y = sy.getPixelForValue(poly[i + 1]);
        if (i === 0) c.moveTo(X, Y);
        else c.lineTo(X, Y);
      }
      c.closePath();
      c.fill();
    }
    c.restore();
  },
};
const cityLabelsPlugin = {
  id: "cityLabels",
  afterDatasetsDraw(chart: any) {
    const c = chart.ctx, sx = chart.scales.x, sy = chart.scales.y;
    c.save();
    c.fillStyle = "#111";
    c.font = `7px ${FONT}`;
    c.textAlign = "left";
    c.textBaseline = "middle";
    CITY_NAMES.forEach((n, i) => c.fillText(n, sx.getPixelForValue(CITY_LON[i]) + 0.5, sy.getPixelForValue(CITY_LAT[i]) - 3));
    c.restore();
  },
};
const gradientPlugin = (axis: "x" | "y") => ({
  id: "gradient",
  beforeDraw(chart: any) {
    const a = chart.chartArea, c = chart.ctx;
    const g = axis === "x" ? c.createLinearGradient(a.left, 0, a.right, 0) : c.createLinearGradient(0, a.bottom, 0, a.top);
    CMAP.forEach((h, i) => g.addColorStop(i / (CMAP.length - 1), h));
    c.save();
    c.fillStyle = g;
    c.fillRect(a.left, a.top, a.right - a.left, a.bottom - a.top);
    c.restore();
  },
});

const fixedTicks = (vals: number[]) => (s: any) => {
  s.ticks = vals.map((value) => ({ value }));
};

function scatterConfig(o: any) {
  const tick = { font: { family: FONT, size: 16.5 }, color: INK };
  return {
    type: "scatter",
    data: {
      datasets: [
        ...(o.dash ? [{ data: zip(ONE_TO_ONE_X, ONE_TO_ONE_Y), showLine: true, borderColor: "#000", borderWidth: 2.2, borderDash: [7, 3.5], pointRadius: 0 }] : []),
        { data: zip(o.fitX, o.fitY), showLine: true, borderColor: "#f01414", borderWidth: 2.4, pointRadius: 0 },
        { data: pairs(o.points), pointRadius: 3.7, pointBackgroundColor: BLUE, pointBorderWidth: 0 },
      ],
    },
    options: {
      animation: false,
      responsive: false,
      layout: { padding: o.pad },
      plugins: {
        legend: { display: false },
        tooltip: { enabled: false },
        title: {
          display: true, text: o.title, fullSize: false, color: INK,
          font: { family: FONT, size: 20.9, weight: "normal", lineHeight: 1.148 },
          padding: { top: 0, bottom: o.titleGap },
        },
      },
      scales: {
        x: {
          type: "linear", min: o.xr[0], max: o.xr[1],
          afterBuildTicks: fixedTicks(o.xt),
          afterFit: (s: any) => { s.height = o.xh; },
          grid: { drawOnChartArea: false, tickLength: 4, tickColor: SPINE },
          border: { color: SPINE },
          ticks: { ...tick, autoSkip: false, maxRotation: 0, padding: 4, callback: o.xf },
          title: { display: true, text: o.xlabel, color: INK, font: { family: FONT, size: 17.5 }, padding: 0 },
        },
        y: {
          type: "linear", min: o.yr[0], max: o.yr[1],
          afterBuildTicks: fixedTicks(o.yt),
          afterFit: (s: any) => { s.width = o.yw; },
          grid: { drawOnChartArea: false, tickLength: 4, tickColor: SPINE },
          border: { color: SPINE },
          ticks: { ...tick, autoSkip: false, padding: 8, callback: (v: number) => v.toFixed(1) },
          title: { display: true, text: o.ylabel, color: INK, font: { family: FONT, size: 17.5 }, padding: 0 },
        },
      },
    },
    plugins: [framePlugin(), notesPlugin(o.notes)],
  };
}

const configB = scatterConfig({
  title: B_TITLE, titleGap: 1.7, points: B_POINTS, fitX: B_FIT_X, fitY: B_FIT_Y,
  pad: { left: 2.5, right: 14.3, top: 6, bottom: 0.5 }, xh: 46.2, yw: 62.8,
  xr: [-0.292, 6.315], yr: [-0.0565, 1.215], xt: B_X_TICKS, yt: B_Y_TICKS, xf: (v: number) => String(v),
  xlabel: "aircraft NO₂(ppb)", ylabel: "TROPOMI NO₂(molec/cm²)",
  notes: [{ text: "1e16", fx: "left", dx: 0, fy: "top", dy: -9, align: "left", font: `16.5px ${FONT}` }],
});
const configC = scatterConfig({
  title: C_TITLE, titleGap: 2, points: C_POINTS, fitX: ONE_TO_ONE_X, fitY: C_FIT_Y, dash: true,
  pad: { left: 39.5, right: 35.3, top: 6, bottom: 0.5 }, xh: 50.2, yw: 61.8,
  xr: [0, 1.5], yr: [0, 1.5], xt: CD_TICKS_X, yt: CD_TICKS_Y, xf: (v: number) => v.toFixed(2),
  xlabel: "aircraft NO₂ (molec/cm²)", ylabel: "TROPOMI NO₂ (molec/cm²)",
  notes: [
    { text: "1e16", fx: "left", dx: 0, fy: "top", dy: -9.3, align: "left", font: `16.5px ${FONT}` },
    { text: "1e16", fx: "right", dx: -0.5, fy: "bottom", dy: 34.7, align: "right", font: `16.5px ${FONT}` },
  ],
});
const configD = scatterConfig({
  title: D_TITLE, titleGap: 1, points: D_POINTS, fitX: ONE_TO_ONE_X, fitY: D_FIT_Y, dash: true,
  pad: { left: 55.2, right: 49, top: 5.7, bottom: 0.5 }, xh: 50.2, yw: 63.5,
  xr: [0, 1.5], yr: [0, 1.5], xt: CD_TICKS_X, yt: CD_TICKS_Y, xf: (v: number) => v.toFixed(2),
  xlabel: "aircraft NO₂ (molec/cm²)", ylabel: "TROPOMI EC NO₂ (molec/cm²)",
  notes: [
    { text: "1e16", fx: "left", dx: -1, fy: "top", dy: -9.7, align: "left", font: `16.5px ${FONT}` },
    { text: "1e16", fx: "right", dx: -1, fy: "bottom", dy: 33.7, align: "right", font: `16.5px ${FONT}` },
  ],
});

const configMap = {
  type: "scatter",
  data: {
    datasets: [
      { label: "cities", data: zip(CITY_LON, CITY_LAT), pointRadius: 2, pointBackgroundColor: "#f00000", pointBorderWidth: 0 },
      {
        label: "track", data: zip(TRACK_LON, TRACK_LAT), pointRadius: 3.8, pointBorderWidth: 0.9, pointBorderColor: "#2b2b2b",
        pointBackgroundColor: TRACK_PPB.map((v) => (v === null ? "rgb(128,128,128)" : ppbColor(v))),
      },
      { label: "cells", data: buildCells(), pointRadius: 0 },
    ],
  },
  options: {
    animation: false,
    responsive: false,
    layout: { padding: { left: 0, right: 7, top: 1, bottom: 0 } },
    plugins: {
      legend: { display: false },
      tooltip: { enabled: false },
      title: { display: true, text: MAP_TITLE, fullSize: false, color: INK, font: { family: FONT, size: 11, weight: "normal", lineHeight: 1.18 }, padding: { top: 0, bottom: 1 } },
    },
    scales: {
      x: {
        type: "linear", min: -113.098, max: -110.098,
        afterBuildTicks: fixedTicks(LON_TICKS),
        afterFit: (s: any) => { s.height = 19.7; },
        grid: { color: "rgba(20,20,20,0.42)", drawTicks: false },
        border: { display: false },
        ticks: { font: { family: FONT, size: 10 }, color: INK, padding: 5, autoSkip: false, maxRotation: 0, callback: (v: number) => `${Math.abs(v)}°W` },
      },
      y: {
        type: "linear", min: 56, max: 58,
        afterBuildTicks: fixedTicks(LAT_TICKS),
        afterFit: (s: any) => { s.width = 29; },
        grid: { color: "rgba(20,20,20,0.42)", drawTicks: false },
        border: { display: false },
        ticks: { font: { family: FONT, size: 10 }, color: INK, padding: 5, autoSkip: false, callback: (v: number) => `${v}°N` },
      },
    },
  },
  plugins: [cellsPlugin, framePlugin("#8c8c8c"), cityLabelsPlugin],
};

const configBarV = {
  type: "scatter",
  data: { datasets: [{ data: [] }] },
  options: {
    animation: false,
    responsive: false,
    layout: { padding: { left: 4.3, right: 1.7, top: 10, bottom: 10 } },
    plugins: { legend: { display: false }, tooltip: { enabled: false } },
    scales: {
      x: { display: false, min: 0, max: 1 },
      y: {
        type: "linear", position: "right", min: -1, max: 7,
        afterBuildTicks: fixedTicks(NO2_TICKS),
        afterFit: (s: any) => { s.width = 30; },
        grid: { drawOnChartArea: false, tickLength: 3, tickColor: SPINE },
        border: { color: "#8c8c8c" },
        ticks: { font: { family: FONT, size: 8.5 }, color: INK, padding: 2, autoSkip: false, callback: (v: number) => String(v).replace("-", "−") },
        title: { display: true, text: "NO₂ (molec/cm²)", color: INK, font: { family: FONT, size: 10.5 }, padding: 0 },
      },
    },
  },
  plugins: [
    gradientPlugin("y"), framePlugin("#8c8c8c"),
    notesPlugin([{ text: "1e15", fx: "right", dx: 0, fy: "top", dy: -4, align: "right", font: `8.5px ${FONT}` }]),
  ],
};

const configBarH = {
  type: "scatter",
  data: { datasets: [{ data: [] }] },
  options: {
    animation: false,
    responsive: false,
    layout: { padding: { left: 29, right: 17, top: 10, bottom: 0.4 } },
    plugins: { legend: { display: false }, tooltip: { enabled: false } },
    scales: {
      y: { display: false, min: 0, max: 1 },
      x: {
        type: "linear", min: 0, max: 4.5,
        afterBuildTicks: fixedTicks(PPB_TICKS),
        afterFit: (s: any) => { s.height = 24.6; },
        grid: { drawOnChartArea: false, tickLength: 2, tickColor: SPINE },
        border: { color: "#8c8c8c" },
        ticks: { font: { family: FONT, size: 7.7 }, color: INK, padding: 0, autoSkip: false, maxRotation: 0, callback: (v: number) => v.toFixed(1) },
        title: { display: true, text: "NO₂ (ppb)", color: INK, font: { family: FONT, size: 11 }, padding: 0 },
      },
    },
  },
  plugins: [gradientPlugin("x"), framePlugin("#8c8c8c")],
};

function Panel({ config, left, top, width, height }: any) {
  const ref = useRef<HTMLCanvasElement>(null);
  useEffect(() => {
    const chart = new Chart(ref.current as HTMLCanvasElement, config);
    return () => chart.destroy();
  }, [config]);
  return <canvas ref={ref} width={width} height={height} style={{ position: "absolute", left, top, width, height, display: "block" }} />;
}

const LETTERS: [string, number, number][] = [["a)", 8, -4], ["b)", 605, 37], ["c)", 44, 427], ["d)", 593, 429]];

export default function App() {
  return (
    <div style={{ position: "absolute", left: 0, top: 0, width: 1050, height: 775, overflow: "hidden", background: "#fff", filter: "blur(0.35px)" }}>
      <Panel config={configMap} left={0} top={25} width={510} height={350} />
      <Panel config={configBarV} left={500} top={30} width={60} height={335} />
      <Panel config={configBarH} left={0} top={360} width={520} height={51} />
      <Panel config={configB} left={570} top={50} width={480} height={350} />
      <Panel config={configC} left={0} top={425} width={520} height={349} />
      <Panel config={configD} left={530} top={428} width={550} height={349} />
      {LETTERS.map(([t, x, y]) => (
        <div key={t} style={{ position: "absolute", left: x, top: y, fontFamily: "Lato", fontSize: 25, lineHeight: "32px", color: "#111" }}>{t}</div>
      ))}
    </div>
  );
}
